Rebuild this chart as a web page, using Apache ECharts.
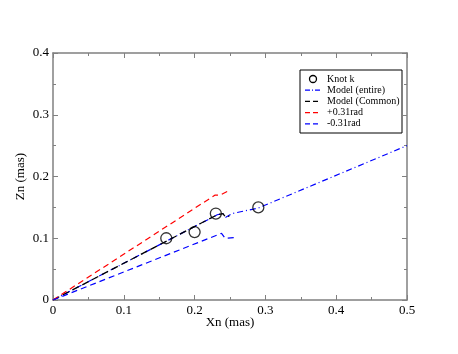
<!DOCTYPE html>
<html>
<head>
<meta charset="utf-8">
<script src="https://cdn.jsdelivr.net/npm/echarts@6/dist/echarts.min.js"></script>
<style>
  html, body { margin: 0; padding: 0; background: #fff; }
  #chart { width: 458px; height: 354px; }
</style>
</head>
<body>
<div id="chart"></div>
<script>
// knots
const knots = [[0.16, 0.10], [0.20, 0.11], [0.23, 0.14], [0.29, 0.15]];
// model lines
const modelEntire = [[0, 0], [0.232, 0.138], [0.24, 0.140], [0.244, 0.134], [0.253, 0.140], [0.29, 0.149], [0.5, 0.25]];
const modelCommon = [[0, 0], [0.232, 0.138], [0.24, 0.140], [0.244, 0.134], [0.249, 0.136]];
const plusRad = [[0, 0], [0.229, 0.170], [0.236, 0.170], [0.25, 0.178]];
const minusRad = [[0, 0], [0.238, 0.108], [0.243, 0.100], [0.256, 0.101]];

const xTicks = [0, 0.1, 0.2, 0.3, 0.4, 0.5];
const yTicks = [0, 0.1, 0.2, 0.3, 0.4];

const font = 'Liberation Serif';
const axisGray = '#808080';

let chart = echarts.init(document.getElementById('chart'));

function axisBase (ticks) {
  return {
    type: 'value',
    min: ticks[0],
    max: ticks[ticks.length - 1],
    interval: 0.1,
    axisLine: { show: true, onZero: false, lineStyle: { color: axisGray, width: 1.5 } },
    axisTick: { show: true, inside: true, length: 5, lineStyle: { color: axisGray } },
    minorTick: { show: true, splitNumber: 2, length: 3, lineStyle: { color: axisGray } },
    splitLine: { show: false },
    axisLabel: { show: false }
  };
}

function lbl (v) {
  return v === 0 ? '0' : String(+v.toFixed(1));
}

// legend entries drawn as graphics
const legendX = 300, legendY = 70;
const legendRows = [
  { text: 'Knot k', kind: 'circle' },
  { text: 'Model (entire)', color: '#0000ff', dash: [5, 2, 1, 2] },
  { text: 'Model (Common)', color: '#000000', dash: [5, 3] },
  { text: '+0.31rad', color: '#ff0000', dash: [5, 3] },
  { text: '-0.31rad', color: '#0000ff', dash: [5, 3] }
];
const graphics = [{
  type: 'rect',
  shape: { x: legendX, y: legendY, width: 102, height: 63 },
  style: { fill: '#fff', stroke: '#000', lineWidth: 1 }
}];
legendRows.forEach(function (r, i) {
  const cy = legendY + 9 + i * 11.2;
  if (r.kind === 'circle') {
    graphics.push({ type: 'circle', shape: { cx: legendX + 13, cy: cy, r: 3.5 },
      style: { fill: 'none', stroke: '#000', lineWidth: 1.3 } });
  } else {
    graphics.push({ type: 'line', shape: { x1: legendX + 5, y1: cy, x2: legendX + 21, y2: cy },
      style: { stroke: r.color, lineWidth: 1.3, lineDash: r.dash } });
  }
  graphics.push({ type: 'text', x: legendX + 27, y: cy,
    style: { text: r.text, font: '10px "' + font + '"', fill: '#000', textVerticalAlign: 'middle' } });
});

let option = {
  animation: false,
  grid: { left: 53, right: 51, top: 53, bottom: 54 },
  xAxis: [
    Object.assign(axisBase(xTicks), {
      position: 'bottom',
      name: 'Xn (mas)',
      nameLocation: 'middle',
      nameGap: 16,
      nameMoveOverlap: false,
      nameTextStyle: { fontFamily: font, fontSize: 13, color: '#000' },
      axisLabel: { show: true, margin: 4, fontFamily: font, fontSize: 13, color: '#000', formatter: lbl }
    }),
    Object.assign(axisBase(xTicks), { position: 'top' })
  ],
  yAxis: [
    Object.assign(axisBase(yTicks), {
      position: 'left',
      name: 'Zn (mas)',
      nameLocation: 'middle',
      nameGap: 26,
      nameMoveOverlap: false,
      nameTextStyle: { fontFamily: font, fontSize: 13, color: '#000' },
      axisLabel: { show: true, margin: 4, fontFamily: font, fontSize: 13, color: '#000', formatter: lbl }
    }),
    Object.assign(axisBase(yTicks), { position: 'right' })
  ],
  series: [
    {
      name: 'Model (entire)', type: 'line', data: modelEntire, symbol: 'none',
      lineStyle: { color: '#0000ff', width: 1.2, type: [6, 3, 1, 3] }, z: 2
    },
    {
      name: 'Model (Common)', type: 'line', data: modelCommon, symbol: 'none',
      lineStyle: { color: '#000000', width: 1.3, type: [7, 4] }, z: 3
    },
    {
      name: '+0.31rad', type: 'line', data: plusRad, symbol: 'none',
      lineStyle: { color: '#ff0000', width: 1.2, type: [6, 4] }, z: 3
    },
    {
      name: '-0.31rad', type: 'line', data: minusRad, symbol: 'none',
      lineStyle: { color: '#0000ff', width: 1.2, type: [6, 4] }, z: 3
    },
    {
      name: 'Knot k', type: 'scatter', data: knots, symbol: 'circle', symbolSize: 11,
      itemStyle: { color: 'rgba(0,0,0,0)', borderColor: '#000', borderWidth: 1.3 }, z: 4
    }
  ],
  graphic: graphics
};
chart.setOption(option);
</script>
</body>
</html>
